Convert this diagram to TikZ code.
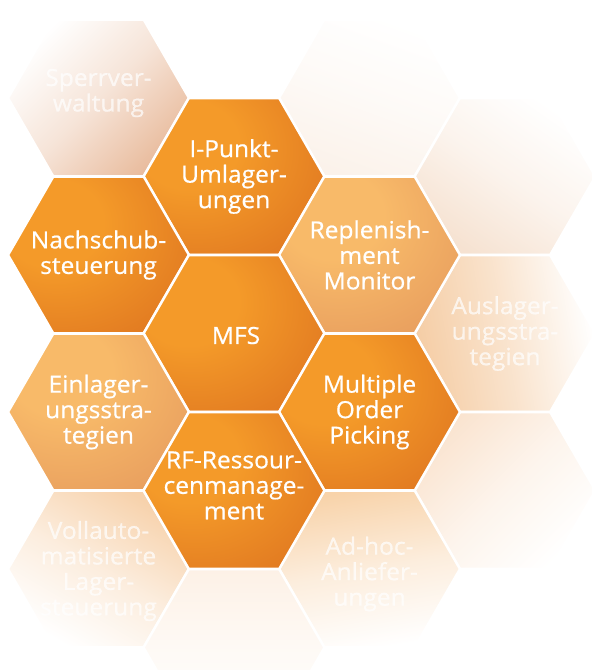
\documentclass[tikz,border=0pt]{standalone}
\usepackage{fontspec}
\setmainfont{Open Sans}
\usetikzlibrary{shapes.geometric}
\definecolor{omA}{HTML}{F49A29}
\definecolor{omB}{HTML}{D3611B}
\definecolor{olA}{HTML}{F8BA69}
\definecolor{olB}{HTML}{DA8655}
\definecolor{fSperr}{HTML}{E9BC9E}
\definecolor{fTopC}{HTML}{FBF2EA}
\definecolor{fTopD}{HTML}{F6E2D1}
\definecolor{fAus}{HTML}{F5CDA5}
\definecolor{fLowD}{HTML}{FAE4D0}
\definecolor{fAdhoc}{HTML}{F8D3AA}
\definecolor{fVoll}{HTML}{F7D2AC}
\definecolor{fBotB}{HTML}{FDF1E6}
\pgfdeclareradialshading{hexmain}{\pgfpoint{-15bp}{12bp}}{color(0bp)=(omA); color(14bp)=(omA); color(58bp)=(omB); color(90bp)=(omB)}
\pgfdeclareradialshading{hexlight}{\pgfpoint{-12bp}{15bp}}{color(0bp)=(olA); color(14bp)=(olA); color(62bp)=(olB); color(90bp)=(olB)}
\tikzset{
  hex/.style={regular polygon, regular polygon sides=6, minimum size=181pt,
    inner sep=0pt, outer sep=0pt, draw=white, line width=2.5pt},
  mainhex/.style={hex, shade, shading=hexmain},
  lighthex/.style={hex, shade, shading=hexlight},
  fadehex/.style 2 args={hex, top color=white, bottom color=#1,
    middle color=#1!40!white, shading angle=#2},
  lbl/.style={text=white, align=center, inner sep=0pt,
    font=\fontsize{23.6}{25.5}\selectfont\addfontfeatures{FakeBold=0.7,FakeStretch=1.04}},
  flbl/.style={lbl, text opacity=0.7},
}
\begin{document}
\begin{tikzpicture}[x=1pt, y=-1pt]
\useasboundingbox (0,0) rectangle (592,670);
\clip (0,0) rectangle (592,670);
% faded outer hexagons
\node[fadehex={fSperr}{45}] (hsperr) at (98.5,98) {};
\node[fadehex={fTopC}{-20}] (htopc) at (369.5,98) {};
\node[fadehex={fTopD}{-35}] (htopd) at (505,176.5) {};
\node[hex, top color=white, bottom color=fAus, middle color=fAus!55!white, shading angle=-80] (haus) at (505,333.5) {};
\node[fadehex={fLowD}{-135}] (hlowd) at (505,490.5) {};
\node[fadehex={fAdhoc}{190}] (hadhoc) at (369.5,569) {};
\node[fadehex={fVoll}{150}] (hvoll) at (98.5,569) {};
\node[fadehex={fBotB}{180}] (hbotb) at (234,647.5) {};
% main hexagons
\node[mainhex] (hipunkt) at (234,176.5) {};
\node[mainhex] (hnach) at (98.5,255) {};
\node[lighthex] (hrepl) at (369.5,255) {};
\node[mainhex] (hmfs) at (234,333.5) {};
\node[lighthex] (heinl) at (98.5,412) {};
\node[mainhex] (hmop) at (369.5,412) {};
\node[mainhex] (hrf) at (234,490.5) {};
% labels
\node[flbl] (tsperr) at ([yshift=5pt]hsperr.center) {Sperrver-\\waltung};
\node[flbl] (taus) at (haus.center) {Auslager-\\ungsstra-\\tegien};
\node[flbl] (tvoll) at ([yshift=-2pt]hvoll.center) {Vollauto-\\matisierte\\Lager-\\steuerung};
\node[flbl] (tadhoc) at ([yshift=-5pt]hadhoc.center) {Ad-hoc-\\Anliefer-\\ungen};
\node[lbl] (tipunkt) at (hipunkt.center) {I-Punkt-\\Umlager-\\ungen};
\node[lbl] (tnach) at (hnach.center) {Nachschub-\\steuerung};
\node[lbl] (trepl) at (hrepl.center) {Replenish-\\ment\\Monitor};
\node[lbl] (tmfs) at ([xshift=2pt,yshift=-2pt]hmfs.center) {MFS};
\node[lbl] (teinl) at (heinl.center) {Einlager-\\ungsstra-\\tegien};
\node[lbl] (tmop) at (hmop.center) {Multiple\\Order\\Picking};
\node[lbl] (trf) at ([yshift=5pt]hrf.center) {RF-Ressour-\\cenmanage-\\ment};
\end{tikzpicture}
\end{document}
